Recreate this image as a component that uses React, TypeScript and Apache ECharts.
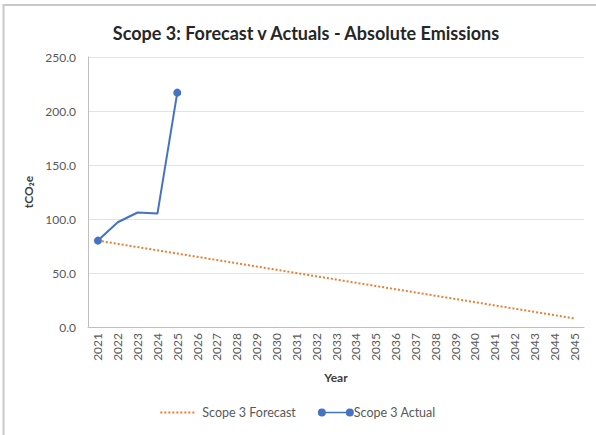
import React, { useEffect, useRef } from "react";
import * as echarts from "echarts";

const years = [
  "2021", "2022", "2023", "2024", "2025", "2026", "2027", "2028", "2029", "2030",
  "2031", "2032", "2033", "2034", "2035", "2036", "2037", "2038", "2039", "2040",
  "2041", "2042", "2043", "2044", "2045",
];
const forecast = [
  80, 77, 74, 71, 68, 65, 62, 59, 56, 53, 50, 47, 44, 41, 38, 35, 32, 29, 26, 23,
  20, 17, 14, 11, 8,
];
const actual = [80, 97, 106, 105, 217];
const actualMarkers = [true, false, false, false, true];

const FONT = "Lato, 'Open Sans', sans-serif";

function dottedIcon(): string {
  let d = "";
  for (let x = 0; x < 36; x += 4) d += `M${x},3 H${x + 2} V5 H${x} Z `;
  d += "M0,0 H0.01 V0.01 H0 Z M35.99,7.99 H36 V8 H35.99 Z";
  return "path://" + d;
}

export default function App() {
  const ref = useRef<HTMLDivElement>(null);
  useEffect(() => {
    if (!ref.current) return;
    const chart = echarts.init(ref.current, null, { renderer: "svg" });
    chart.setOption({
      animation: false,
      backgroundColor: "#ffffff",
      textStyle: { fontFamily: FONT },
      graphic: [
        {
          type: "rect",
          shape: { x: 3.5, y: 5, width: 620, height: 460 },
          style: { fill: "none", stroke: "#c8c8c8", lineWidth: 2 },
          silent: true,
        },
      ],
      title: {
        text: "Scope 3: Forecast v Actuals - Absolute Emissions",
        left: 301,
        textAlign: "center",
        top: 19,
        textStyle: { fontFamily: FONT, fontSize: 18, fontWeight: "bold", color: "#262626" },
      },
      legend: {
        bottom: 11,
        left: "center",
        itemGap: 22,
        itemWidth: 36,
        itemHeight: 8,
        textStyle: { fontFamily: FONT, fontSize: 12.5, color: "#595959" },
        data: [
          { name: "Scope 3 Forecast", icon: dottedIcon(), textStyle: { padding: [0, 0, 0, 1] } },
          {
            name: "Scope 3 Actual",
            icon:
              "path://M0,4 A4,4 0 1,1 8,4 A4,4 0 1,1 0,4 M4,3.2 H32 V4.8 H4 Z M28,4 A4,4 0 1,1 36,4 A4,4 0 1,1 28,4",
            textStyle: { padding: [0, 0, 0, -5] },
          },
        ],
      },
      grid: { left: 88, right: 12, top: 57, bottom: 108 },
      xAxis: {
        type: "category",
        data: years,
        boundaryGap: true,
        name: "Year",
        nameLocation: "middle",
        nameGap: 44,
        nameTextStyle: { fontFamily: FONT, fontSize: 12, fontWeight: "bold", color: "#404040" },
        axisLine: { lineStyle: { color: "#bfbfbf" } },
        axisTick: { show: false },
        axisLabel: { rotate: 90, fontSize: 12, color: "#595959", margin: 6, interval: 0, fontFamily: FONT },
      },
      yAxis: {
        type: "value",
        min: 0,
        max: 250,
        interval: 50,
        name: "tCO₂e",
        nameLocation: "middle",
        nameGap: 52,
        nameTextStyle: { fontFamily: FONT, fontSize: 12, fontWeight: "bold", color: "#404040" },
        axisLine: { show: true, lineStyle: { color: "#bfbfbf" } },
        axisTick: { show: false },
        axisLabel: {
          fontSize: 12,
          color: "#595959",
          margin: 12,
          fontFamily: FONT,
          formatter: (v: number) => v.toFixed(1),
        },
        splitLine: { lineStyle: { color: "#e3e3e3" } },
      },
      series: [
        {
          name: "Scope 3 Forecast",
          type: "line",
          data: forecast,
          symbol: "none",
          itemStyle: { color: "#ED7D31" },
          lineStyle: { color: "#ED7D31", width: 2, type: [2, 2] },
          z: 2,
        },
        {
          name: "Scope 3 Actual",
          type: "line",
          data: actual.map((v, i) => ({ value: v, symbol: actualMarkers[i] ? "circle" : "none" })),
          symbol: "circle",
          symbolSize: 8,
          itemStyle: { color: "#4472C4" },
          lineStyle: { color: "#4472C4", width: 2 },
          z: 3,
        },
      ],
    });
    return () => chart.dispose();
  }, []);
  return (
    <div
      ref={ref}
      style={{ position: "fixed", left: 0, top: 0, width: 596, height: 435 }}
    />
  );
}
